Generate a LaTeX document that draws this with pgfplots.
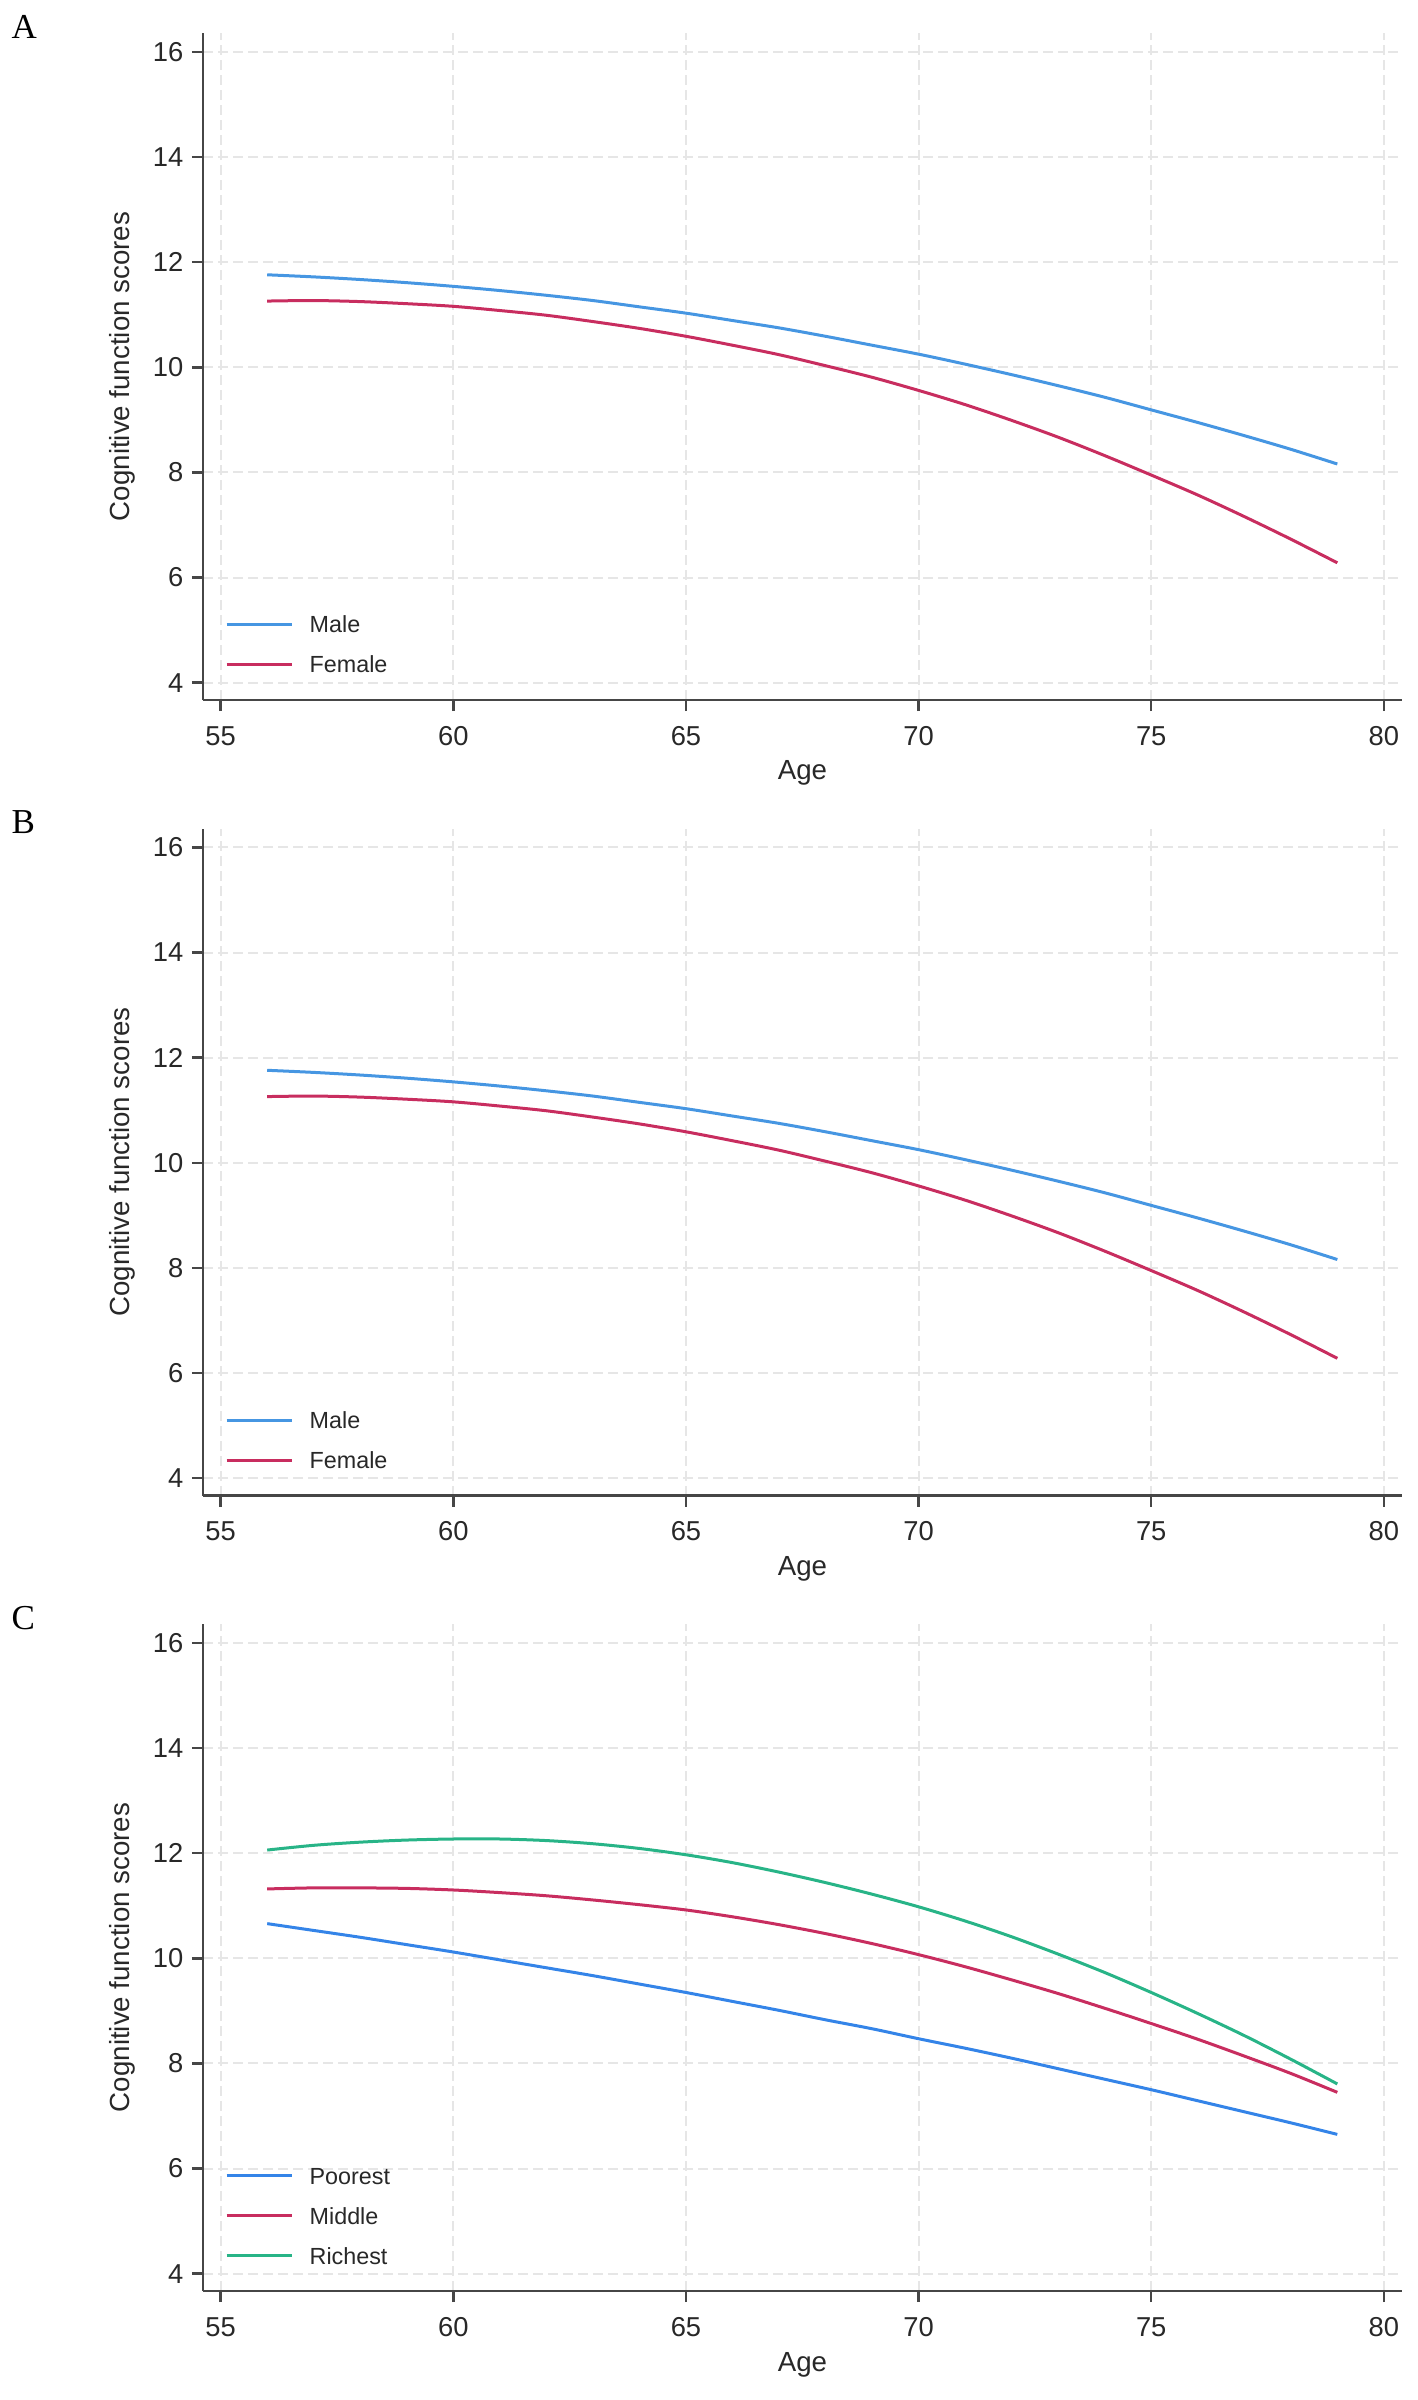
\documentclass[border=0pt]{standalone}
\usepackage{pgfplots}
\usepackage{pgfplotstable}
\pgfplotsset{compat=1.18}
\usepackage{fontspec}
\setmainfont{Liberation Sans}
\newfontfamily\seriffont{Liberation Serif}

\definecolor{cblue}{RGB}{70,150,226}
\definecolor{cblueC}{RGB}{52,132,232}
\definecolor{cred}{RGB}{200,45,95}
\definecolor{cgreen}{RGB}{40,180,135}
\definecolor{axisgray}{RGB}{70,70,70}
\definecolor{gridgray}{RGB}{230,230,230}
\definecolor{txt}{RGB}{40,40,40}

\pgfplotstableread{
age male female
56 11.76 11.26
57 11.72 11.27
58 11.67 11.25
59 11.61 11.21
60 11.54 11.16
61 11.46 11.08
62 11.37 10.99
63 11.27 10.87
64 11.15 10.74
65 11.03 10.59
66 10.89 10.42
67 10.75 10.24
68 10.59 10.03
69 10.42 9.81
70 10.25 9.56
71 10.06 9.29
72 9.86 8.99
73 9.65 8.67
74 9.43 8.32
75 9.19 7.95
76 8.95 7.57
77 8.70 7.16
78 8.44 6.73
79 8.16 6.28
}\sexdata

\pgfplotstableread{
age poorest middle richest
56 10.66 11.32 12.06
57 10.53 11.34 12.15
58 10.40 11.34 12.21
59 10.26 11.33 12.25
60 10.12 11.30 12.27
61 9.97 11.25 12.27
62 9.82 11.19 12.24
63 9.67 11.11 12.18
64 9.51 11.02 12.09
65 9.35 10.92 11.97
66 9.18 10.79 11.82
67 9.01 10.64 11.64
68 8.83 10.47 11.44
69 8.66 10.28 11.22
70 8.47 10.07 10.98
71 8.29 9.84 10.71
72 8.10 9.59 10.41
73 7.90 9.33 10.08
74 7.70 9.05 9.73
75 7.50 8.76 9.35
76 7.29 8.46 8.95
77 7.08 8.14 8.53
78 6.87 7.81 8.08
79 6.65 7.45 7.61
}\wealthdata

\pgfplotsset{
  panel/.style={
    scale only axis,
    width=359.7pt, height=200.1pt,
    xmin=54.62, xmax=80.39, ymin=3.67, ymax=16.36,
    xtick={55,60,...,80}, ytick={4,6,...,16},
    axis x line*=bottom, axis y line*=left,
    axis line style={draw=axisgray, line width=0.75pt, -},
    tick style={draw=axisgray, line width=0.75pt},
    tick align=outside, major tick length=3.3pt,
    xmajorgrids, ymajorgrids,
    major grid style={draw=gridgray, line width=0.6pt, dash pattern=on 3pt off 1.5pt},
    /pgf/number format/assume math mode=true,
    ticklabel style={font=\fontsize{8.2}{9}\selectfont, text=txt},
    xticklabel style={anchor=base, inner sep=0pt, yshift=-10.2pt},
    yticklabel style={anchor=east, inner sep=0pt, xshift=-2.4pt},
    xlabel={Age},
    ylabel={Cognitive function scores},
    xlabel style={at={(axis description cs:0.5,-0.1199)}, anchor=base, inner sep=0pt, font=\fontsize{8.3}{10}\selectfont, text=txt},
    ylabel style={at={(axis description cs:-0.0615,0.5)}, anchor=base, inner sep=0pt, font=\fontsize{8.3}{10}\selectfont, text=txt},
    legend cell align=left,
    legend style={at={(axis description cs:0.01835,0.0405)}, anchor=south west,
      draw=none, fill=none, inner sep=0pt, outer sep=0pt,
      font=\fontsize{7}{8}\selectfont, text=txt,
      row sep=7pt, column sep=5pt,
      nodes={inner sep=0pt, text height=5pt, text depth=0pt}},
    legend image code/.code={\draw[#1] (0pt,0pt) -- (19.5pt,0pt);},
    every axis plot/.append style={line width=0.9pt, smooth, no markers},
  }
}

\begin{document}
\begin{tikzpicture}
\path[use as bounding box] (0,0) rectangle (425.4pt,-720pt);

\node[anchor=base west, inner sep=0pt, font=\seriffont\fontsize{10.5}{12}\selectfont] at (3.3pt,-11.4pt) {A};
\node[anchor=base west, inner sep=0pt, font=\seriffont\fontsize{10.5}{12}\selectfont] at (3.3pt,-250.05pt) {B};
\node[anchor=base west, inner sep=0pt, font=\seriffont\fontsize{10.5}{12}\selectfont] at (3.3pt,-488.7pt) {C};

\begin{axis}[panel, at={(60.9pt,-210pt)}, anchor=south west]
\addplot[cblue] table[x=age, y=male] {\sexdata};
\addlegendentry{Male}
\addplot[cred] table[x=age, y=female] {\sexdata};
\addlegendentry{Female}
\end{axis}

\begin{axis}[panel, at={(60.9pt,-448.65pt)}, anchor=south west]
\addplot[cblue] table[x=age, y=male] {\sexdata};
\addlegendentry{Male}
\addplot[cred] table[x=age, y=female] {\sexdata};
\addlegendentry{Female}
\end{axis}

\begin{axis}[panel, at={(60.9pt,-687.3pt)}, anchor=south west]
\addplot[cblueC] table[x=age, y=poorest] {\wealthdata};
\addlegendentry{Poorest}
\addplot[cred] table[x=age, y=middle] {\wealthdata};
\addlegendentry{Middle}
\addplot[cgreen] table[x=age, y=richest] {\wealthdata};
\addlegendentry{Richest}
\end{axis}
\end{tikzpicture}
\end{document}
